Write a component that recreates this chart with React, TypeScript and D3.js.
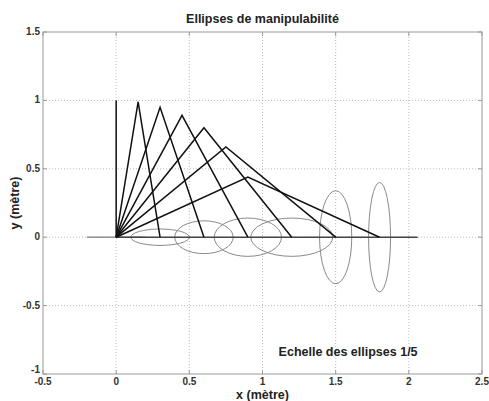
import * as d3 from 'd3';

// two-link arm (L1 = L2 = 1), end effector moved along y = 0
const elbowX = [0, 0.15, 0.3, 0.45, 0.6, 0.75, 0.9];
const elbowY = [1, 0.99, 0.95, 0.89, 0.8, 0.66, 0.44];
const endX = [0, 0.3, 0.6, 0.9, 1.2, 1.5, 1.8];

// manipulability ellipses (scale 1/5), centred on the end effector
const ellRx = [0.2, 0.2, 0.2, 0.23, 0.28, 0.11, 0.075];
const ellRy = [0, 0.06, 0.12, 0.14, 0.14, 0.34, 0.4];

// horizontal path of the end effector
const pathX = [0, 2.06];

const xTicks = [-0.5, 0, 0.5, 1, 1.5, 2, 2.5];
const yTicks = [-1, -0.5, 0, 0.5, 1, 1.5];

export default function App() {
  const width = 489;
  const height = 401;
  const m = {left: 43, right: 7, top: 32, bottom: 27};

  const x = d3.scaleLinear().domain([-0.5, 2.5]).range([m.left, width - m.right]);
  const y = d3.scaleLinear().domain([-1, 1.5]).range([height - m.bottom, m.top]);

  const line = d3.line<[number, number]>().x(d => x(d[0])).y(d => y(d[1]));

  const fmt = (v: number) => String(v);
  const font = 'Liberation Sans, Arial, sans-serif';

  return (
    <svg width={width} height={height} style={{position: 'absolute', left: 0, top: 0, background: '#fff'}}
      fontFamily={font}>
      {/* grid */}
      {xTicks.slice(1, -1).map(t => (
        <line key={'gx' + t} x1={x(t)} x2={x(t)} y1={y(-1)} y2={y(1.5)} stroke="#aaa" strokeWidth={0.8} strokeDasharray="1,2" />
      ))}
      {yTicks.slice(1, -1).map(t => (
        <line key={'gy' + t} y1={y(t)} y2={y(t)} x1={x(-0.5)} x2={x(2.5)} stroke="#aaa" strokeWidth={0.8} strokeDasharray="1,2" />
      ))}

      {/* ellipses */}
      {endX.map((cx, i) => (
        <ellipse key={'e' + i} cx={x(cx)} cy={y(0)}
          rx={x(ellRx[i]) - x(0)} ry={Math.max(y(0) - y(ellRy[i]), 0.01)}
          fill="none" stroke="#8a8a8a" strokeWidth={1} />
      ))}

      {/* path on y = 0 */}
      <path d={line(pathX.map(v => [v, 0]) as [number, number][]) || ''} stroke="#444" strokeWidth={1.4} fill="none" />

      {/* arm configurations */}
      {endX.map((ex, i) => (
        <path key={'a' + i}
          d={line([[0, 0], [elbowX[i], elbowY[i]], [ex, 0]]) || ''}
          fill="none" stroke="#111" strokeWidth={1.5} strokeLinejoin="miter" />
      ))}

      {/* frame */}
      <rect x={x(-0.5)} y={y(1.5)} width={x(2.5) - x(-0.5)} height={y(-1) - y(1.5)} fill="none" stroke="#999" strokeWidth={1} />
      {xTicks.map(t => (
        <g key={'tx' + t}>
          <line x1={x(t)} x2={x(t)} y1={y(-1)} y2={y(-1) - 4} stroke="#999" />
          <line x1={x(t)} x2={x(t)} y1={y(1.5)} y2={y(1.5) + 4} stroke="#999" />
          <text x={x(t)} y={y(-1) + 11} textAnchor="middle" fontSize={10} fontWeight="bold" fill="#333">{fmt(t)}</text>
        </g>
      ))}
      {yTicks.map(t => (
        <g key={'ty' + t}>
          <line y1={y(t)} y2={y(t)} x1={x(-0.5)} x2={x(-0.5) + 4} stroke="#999" />
          <line y1={y(t)} y2={y(t)} x1={x(2.5)} x2={x(2.5) - 4} stroke="#999" />
          <text x={x(-0.5) - 3} y={t === -1 ? y(t) - 1 : y(t) + 3} textAnchor="end" fontSize={10} fontWeight="bold" fill="#333">{fmt(t)}</text>
        </g>
      ))}

      {/* labels */}
      <text x={x(1)} y={23} textAnchor="middle" fontSize={12.5} fontWeight="bold" fill="#222">Ellipses de manipulabilité</text>
      <text x={x(1)} y={399} textAnchor="middle" fontSize={12.5} fontWeight="bold" fill="#222">x (mètre)</text>
      <text transform={`translate(19,${y(0.25)}) rotate(-90)`} textAnchor="middle" fontSize={12.5} fontWeight="bold" fill="#222">y (mètre)</text>
      <text x={x(1.11)} y={y(-0.87)} fontSize={12.5} fontWeight="bold" fill="#222">Echelle des ellipses 1/5</text>
    </svg>
  );
}
